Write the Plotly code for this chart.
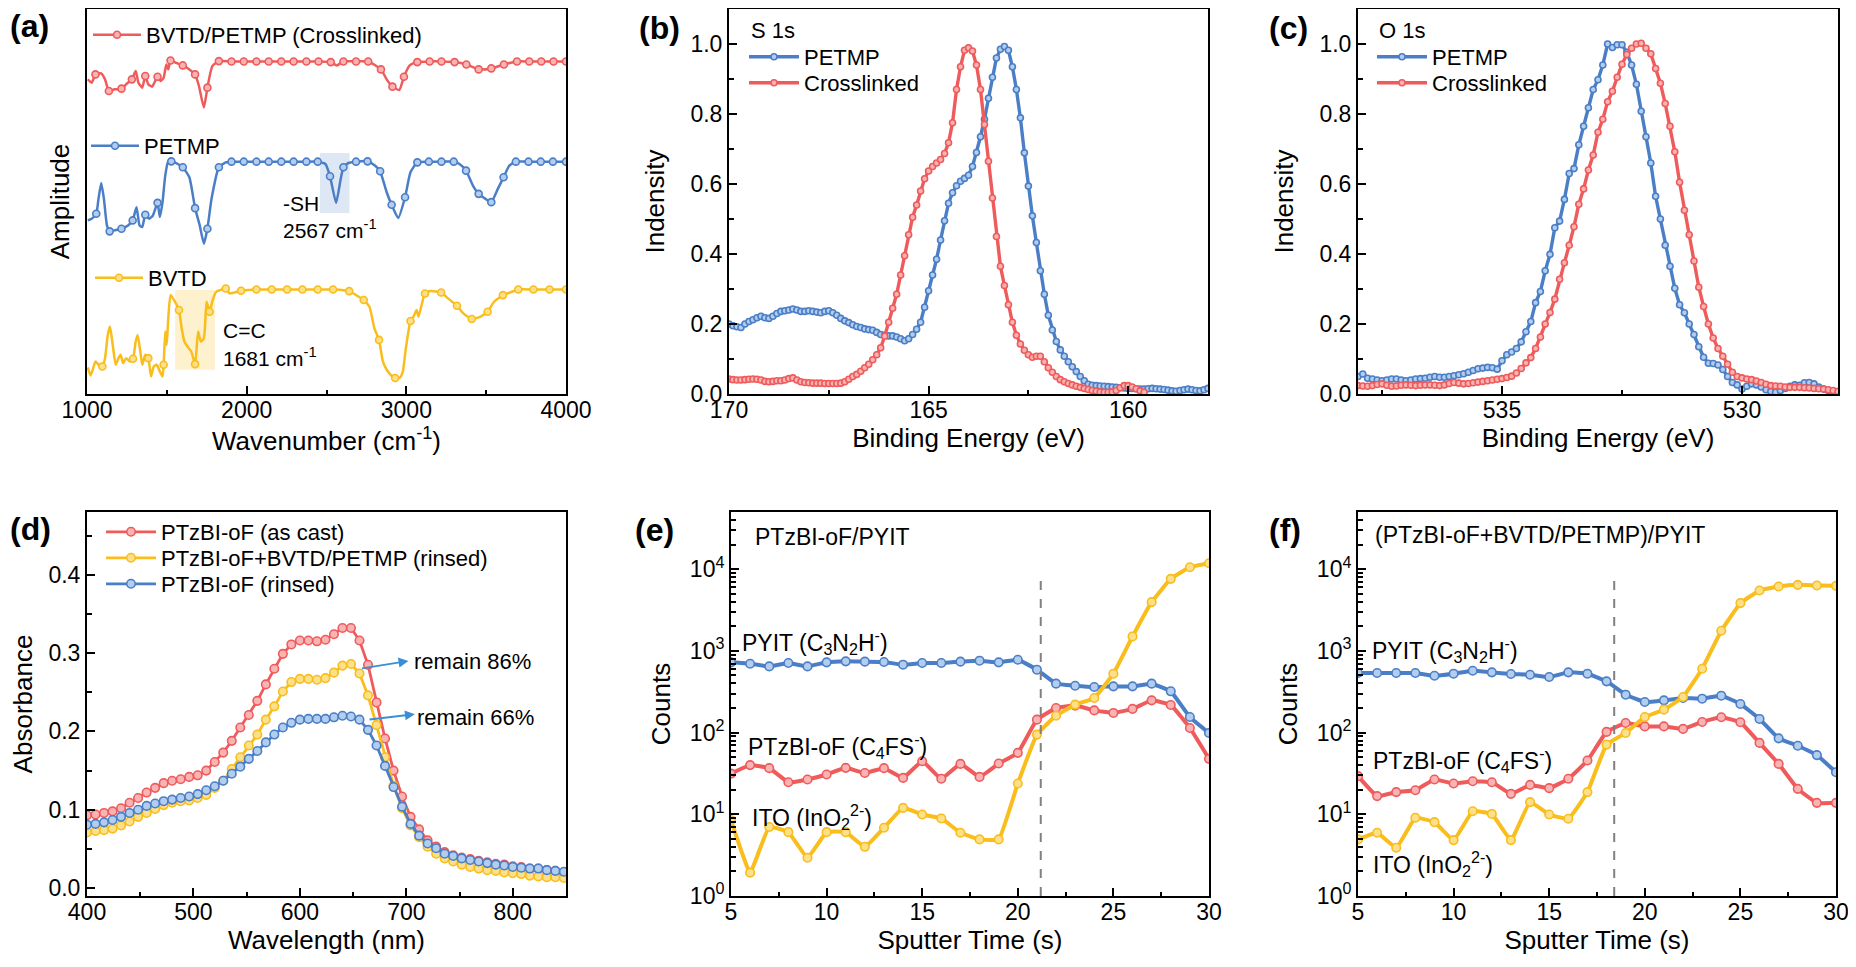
import numpy as np
import plotly.graph_objects as go

FONT = "Arial, Liberation Sans, Helvetica, sans-serif"
RED, RED_F = "#ef5b5b", "#f8b4b4"
BLUE, BLUE_F = "#4a7ec6", "#b3cdee"
YEL, YEL_F = "#f9bd1c", "#fde08a"
# the page body keeps its 8 px margin, so the figure is laid out in screen pixels minus that offset
OFF = 8
FW, FH = 1843, 967 - 2 * OFF

# ---------------- (a) FTIR, arbitrary amplitude units ----------------
xl_x = [1005, 1029, 1053, 1089, 1113, 1137, 1173, 1216, 1245, 1281, 1305, 1322, 1346, 1365, 1384, 1408,
        1442, 1461, 1480, 1497, 1509, 1523, 1557, 1600, 1641, 1677, 1701, 1732, 1754, 1785, 1826, 1905,
        1982, 2061, 2138, 2217, 2294, 2374, 2450, 2527, 2565, 2606, 2685, 2761, 2841, 2877, 2913, 2956,
        2985, 3021, 3069, 3146, 3220, 3302, 3376, 3453, 3532, 3611, 3693, 3770, 3845, 3922, 4000]
xl_y = [948, 938, 963, 966, 948, 913, 918, 920, 933, 948, 973, 938, 923, 958, 933, 926,
        956, 943, 953, 993, 978, 1005, 998, 990, 978, 963, 928, 863, 923, 988, 1003, 1002,
        1002, 1002, 1002, 1002, 1002, 1002, 1002, 1000, 990, 1002, 1002, 1002, 978, 948, 926, 916,
        956, 990, 1000, 1002, 1002, 1000, 993, 978, 981, 993, 1002, 1002, 1002, 1002, 1002]
xl_marks = [1053, 1137, 1216, 1281, 1365, 1442, 1523, 1600, 1677, 1754, 1826, 1905, 1982, 2061, 2138,
            2217, 2294, 2374, 2450, 2527, 2606, 2685, 2761, 2841, 2913, 2985, 3069, 3146, 3220, 3302,
            3376, 3453, 3532, 3611, 3693, 3770, 3845, 3922, 4000]

pet_x = [1005, 1029, 1058, 1072, 1089, 1106, 1125, 1142, 1173, 1216, 1257, 1286, 1310, 1329, 1346, 1365,
         1389, 1413, 1442, 1456, 1473, 1490, 1509, 1528, 1569, 1600, 1641, 1677, 1706, 1732, 1754, 1780,
         1826, 1869, 1905, 1982, 2061, 2138, 2217, 2294, 2374, 2445, 2493, 2522, 2560, 2589, 2606, 2637,
         2685, 2757, 2805, 2836, 2877, 2908, 2949, 2992, 3026, 3069, 3141, 3220, 3297, 3333, 3374, 3417,
         3453, 3496, 3532, 3573, 3609, 3645, 3686, 3765, 3842, 3918, 4000]
pet_y = [523, 528, 543, 588, 636, 588, 508, 490, 493, 498, 508, 523, 563, 508, 503, 540,
         528, 538, 576, 533, 578, 658, 701, 701, 693, 683, 653, 560, 508, 453, 498, 588,
         683, 698, 700, 700, 700, 700, 700, 700, 700, 700, 693, 656, 576, 648, 683, 696,
         700, 701, 688, 671, 608, 570, 530, 593, 668, 698, 700, 700, 700, 693, 673, 628,
         603, 588, 578, 618, 653, 688, 700, 700, 700, 700, 700]
pet_marks = [1058, 1142, 1216, 1286, 1365, 1442, 1528, 1600, 1677, 1754, 1826, 1905, 1982, 2061, 2138,
             2217, 2294, 2374, 2445, 2522, 2606, 2685, 2757, 2836, 2908, 2992, 3069, 3141, 3220, 3297,
             3374, 3453, 3532, 3609, 3686, 3765, 3842, 3918, 4000]

bv_x = [1005, 1022, 1036, 1053, 1072, 1096, 1113, 1130, 1144, 1161, 1180, 1197, 1211, 1226, 1245, 1269,
        1288, 1305, 1317, 1334, 1346, 1365, 1384, 1401, 1418, 1437, 1456, 1473, 1480, 1490, 1499, 1509,
        1523, 1545, 1576, 1593, 1610, 1629, 1653, 1677, 1696, 1713, 1732, 1749, 1768, 1787, 1809, 1833,
        1869, 1893, 1965, 2061, 2157, 2253, 2349, 2445, 2541, 2642, 2685, 2733, 2769, 2800, 2829, 2853,
        2877, 2901, 2930, 2961, 2978, 2997, 3026, 3045, 3064, 3076, 3093, 3117, 3153, 3218, 3261, 3317,
        3357, 3410, 3465, 3509, 3549, 3605, 3645, 3701, 3796, 3897, 4000]
bv_y = [80, 56, 73, 98, 88, 83, 108, 178, 203, 148, 88, 108, 118, 93, 108, 98,
        106, 158, 178, 128, 88, 118, 108, 53, 83, 88, 68, 53, 88, 188, 148, 228,
        298, 283, 253, 198, 158, 143, 128, 90, 188, 158, 168, 278, 248, 283, 308, 313,
        318, 303, 311, 315, 315, 315, 315, 315, 315, 310, 298, 283, 263, 198, 163, 98,
        73, 58, 48, 50, 68, 138, 220, 233, 253, 233, 263, 303, 310, 306, 288, 266,
        243, 226, 233, 248, 278, 298, 305, 315, 315, 315, 315]
bv_marks = [1096, 1288, 1384, 1480, 1576, 1677, 1768, 1869, 1965, 2061, 2157, 2253, 2349, 2445, 2541,
            2642, 2733, 2829, 2930, 3026, 3117, 3218, 3317, 3410, 3509, 3605, 3701, 3796, 3897, 4000]

sh_band = [2459, 2644, 545, 726]    # x0, x1, y0, y1
cc_band = [1552, 1802, 73, 313]

# ---------------- (b) S 1s, 0.1 eV steps from 170.0 ----------------
s1s_start, s1s_step = 170.0, 0.1
s1s_petmp = [0.200, 0.195, 0.192, 0.190, 0.200, 0.207, 0.212, 0.218, 0.222, 0.218,
             0.216, 0.222, 0.230, 0.236, 0.238, 0.240, 0.243, 0.240, 0.236, 0.236,
             0.238, 0.236, 0.234, 0.232, 0.236, 0.238, 0.232, 0.225, 0.216, 0.209,
             0.204, 0.198, 0.193, 0.190, 0.186, 0.184, 0.182, 0.176, 0.170, 0.168,
             0.166, 0.166, 0.163, 0.158, 0.152, 0.158, 0.170, 0.185, 0.205, 0.248,
             0.295, 0.340, 0.385, 0.440, 0.495, 0.545, 0.575, 0.595, 0.608, 0.616,
             0.625, 0.650, 0.690, 0.735, 0.785, 0.845, 0.905, 0.960, 0.985, 0.993,
             0.982, 0.935, 0.870, 0.789, 0.689, 0.594, 0.509, 0.433, 0.352, 0.285,
             0.225, 0.183, 0.150, 0.126, 0.108, 0.092, 0.078, 0.064, 0.050, 0.038,
             0.028, 0.025, 0.024, 0.023, 0.022, 0.021, 0.020, 0.019, 0.018, 0.017,
             0.016, 0.016, 0.015, 0.014, 0.014, 0.015, 0.016, 0.015, 0.014, 0.013,
             0.011, 0.009, 0.008, 0.010, 0.012, 0.014, 0.012, 0.010, 0.009, 0.012,
             0.016]
s1s_cross = [0.043, 0.041, 0.040, 0.040, 0.041, 0.042, 0.043, 0.042, 0.040, 0.036,
             0.035, 0.036, 0.038, 0.038, 0.040, 0.044, 0.046, 0.040, 0.035, 0.033,
             0.032, 0.031, 0.031, 0.031, 0.030, 0.030, 0.030, 0.030, 0.031, 0.035,
             0.042, 0.050, 0.056, 0.065, 0.075, 0.085, 0.098, 0.112, 0.132, 0.165,
             0.205, 0.245, 0.285, 0.340, 0.395, 0.455, 0.505, 0.540, 0.580, 0.615,
             0.637, 0.650, 0.660, 0.670, 0.687, 0.718, 0.775, 0.870, 0.935, 0.982,
             0.989, 0.980, 0.940, 0.870, 0.770, 0.665, 0.560, 0.450, 0.365, 0.310,
             0.255, 0.205, 0.168, 0.143, 0.125, 0.112, 0.105, 0.108, 0.108, 0.092,
             0.075, 0.062, 0.050, 0.041, 0.035, 0.030, 0.026, 0.022, 0.019, 0.016,
             0.013, 0.010, 0.008, 0.006, 0.005, 0.005, 0.006, 0.010, 0.018, 0.024,
             0.024, 0.020, 0.015, 0.009, 0.005]

# ---------------- (c) O 1s, 0.1 eV steps from 538.0 ----------------
o1s_start, o1s_step = 538.0, 0.1
o1s_petmp = [0.050, 0.057, 0.045, 0.043, 0.040, 0.038, 0.040, 0.043, 0.043, 0.040,
             0.038, 0.040, 0.043, 0.044, 0.045, 0.048, 0.050, 0.048, 0.048, 0.050,
             0.052, 0.055, 0.058, 0.062, 0.067, 0.072, 0.074, 0.076, 0.075, 0.071,
             0.095, 0.112, 0.120, 0.130, 0.149, 0.178, 0.207, 0.261, 0.293, 0.352,
             0.399, 0.475, 0.494, 0.556, 0.630, 0.644, 0.712, 0.765, 0.818, 0.870,
             0.898, 0.940, 1.000, 0.990, 0.998, 0.998, 0.976, 0.940, 0.885, 0.808,
             0.735, 0.660, 0.565, 0.500, 0.425, 0.365, 0.302, 0.255, 0.232, 0.200,
             0.170, 0.135, 0.105, 0.088, 0.087, 0.083, 0.070, 0.050, 0.033, 0.026,
             0.014, 0.022, 0.029, 0.026, 0.020, 0.012, 0.007, 0.005, 0.010, 0.016,
             0.022, 0.026, 0.025, 0.032, 0.033, 0.029, 0.020, 0.014, 0.010, 0.008,
             0.007]
o1s_cross = [0.024, 0.023, 0.022, 0.024, 0.027, 0.029, 0.025, 0.022, 0.023, 0.025,
             0.026, 0.025, 0.024, 0.025, 0.026, 0.026, 0.025, 0.024, 0.026, 0.030,
             0.033, 0.031, 0.029, 0.030, 0.032, 0.034, 0.036, 0.038, 0.040, 0.042,
             0.044, 0.047, 0.051, 0.060, 0.073, 0.089, 0.104, 0.130, 0.163, 0.200,
             0.233, 0.271, 0.328, 0.375, 0.425, 0.478, 0.542, 0.586, 0.640, 0.683,
             0.748, 0.785, 0.835, 0.865, 0.905, 0.942, 0.970, 0.988, 1.000, 1.002,
             0.988, 0.972, 0.930, 0.888, 0.830, 0.765, 0.692, 0.605, 0.525, 0.455,
             0.380, 0.305, 0.250, 0.200, 0.160, 0.130, 0.108, 0.085, 0.062, 0.050,
             0.046, 0.043, 0.041, 0.037, 0.033, 0.028, 0.024, 0.023, 0.022, 0.020,
             0.019, 0.019, 0.019, 0.018, 0.017, 0.016, 0.015, 0.014, 0.012, 0.010,
             0.007]

# ---------------- (d) UV-vis absorbance ----------------
wl = [400, 408, 416, 424, 432, 440, 448, 456, 464, 472, 480, 488, 496, 504, 512, 520, 528, 536, 544,
      552, 560, 568, 576, 584, 592, 600, 608, 616, 624, 632, 640, 648, 656, 664, 672, 680, 688, 696,
      704, 712, 720, 728, 736, 744, 752, 760, 768, 776, 784, 792, 800, 808, 816, 824, 832, 840, 848]
abs_cast = [0.093, 0.094, 0.096, 0.098, 0.102, 0.109, 0.115, 0.122, 0.128, 0.134,
            0.137, 0.139, 0.142, 0.144, 0.150, 0.161, 0.173, 0.188, 0.205, 0.221,
            0.239, 0.260, 0.280, 0.299, 0.311, 0.316, 0.316, 0.315, 0.317, 0.324,
            0.332, 0.332, 0.316, 0.285, 0.237, 0.191, 0.150, 0.117, 0.091, 0.075,
            0.061, 0.053, 0.046, 0.042, 0.039, 0.037, 0.035, 0.033, 0.031, 0.030,
            0.028, 0.027, 0.025, 0.025, 0.023, 0.022, 0.020]
abs_xl = [0.071, 0.073, 0.074, 0.076, 0.080, 0.085, 0.091, 0.096, 0.101, 0.106,
          0.109, 0.111, 0.112, 0.115, 0.119, 0.128, 0.137, 0.152, 0.167, 0.182,
          0.196, 0.215, 0.232, 0.251, 0.263, 0.267, 0.267, 0.266, 0.268, 0.275,
          0.284, 0.286, 0.274, 0.246, 0.208, 0.167, 0.131, 0.102, 0.080, 0.065,
          0.053, 0.044, 0.038, 0.034, 0.030, 0.027, 0.025, 0.023, 0.022, 0.020,
          0.019, 0.018, 0.016, 0.015, 0.014, 0.014, 0.013]
abs_rinsed = [0.081, 0.082, 0.084, 0.087, 0.091, 0.096, 0.100, 0.105, 0.108, 0.111,
              0.113, 0.115, 0.117, 0.120, 0.125, 0.130, 0.137, 0.146, 0.155, 0.165,
              0.175, 0.186, 0.196, 0.205, 0.211, 0.215, 0.216, 0.216, 0.216, 0.218,
              0.220, 0.219, 0.215, 0.202, 0.182, 0.156, 0.129, 0.104, 0.082, 0.067,
              0.057, 0.051, 0.044, 0.041, 0.038, 0.036, 0.034, 0.032, 0.030, 0.029,
              0.027, 0.026, 0.025, 0.025, 0.023, 0.022, 0.021]
# arrows: (tail x, tail y, head x, head y)
arrow86 = [657, 0.280, 702, 0.290]
arrow66 = [664, 0.215, 708, 0.222]

# ---------------- (e), (f) ToF-SIMS depth profiles ----------------
t = [5, 6, 7, 8, 9, 10, 11, 12, 13, 14, 15, 16, 17, 18, 19, 20, 21, 22, 23, 24, 25, 26, 27, 28, 29, 30]
e_pyit = [724, 697, 646, 710, 646, 724, 745, 738, 731, 678, 710, 710, 738, 759, 724, 780, 589, 397,
          375, 361, 368, 368, 397, 320, 155, 99]
e_ptz = [31.5, 40, 36.7, 24.7, 26.7, 30.7, 37, 32, 36.7, 27.9, 44.6, 27.2, 41.4, 28.7, 41.8, 56.5,
         144, 200, 214, 187, 174, 195, 248, 218, 114, 47.7]
e_ito = [8.5, 1.93, 7.0, 6.05, 2.94, 6.05, 6.05, 4.0, 6.84, 12.0, 9.95, 8.9, 5.94, 4.93, 4.93, 23.8,
         94.5, 161, 220, 265, 526, 1503, 3955, 7620, 10570, 11830]
f_pyit = [536, 536, 536, 536, 497, 526, 572, 546, 521, 511, 479, 546, 526, 424, 291, 237, 248, 265,
          260, 283, 224, 147, 85, 69, 53, 32.7]
f_ptz = [29.3, 16.7, 18.7, 19.7, 26.7, 23.8, 25.4, 24.7, 17.8, 22.9, 20.9, 27.2, 45.5, 102, 131, 119,
         119, 111, 135, 154, 134, 74.8, 41.4, 20.5, 13.8, 13.8]
f_ito = [4.93, 5.94, 3.9, 9.06, 8.02, 4.83, 10.9, 10.1, 4.83, 14.1, 9.95, 8.81, 18.7, 71.3, 99, 155,
         191, 273, 605, 1763, 3846, 5480, 6140, 6430, 6310, 6250]
e_interface = [21.2, 8800]
f_interface = [18.4, 7700]


def grid(start, step, n):
    return np.round(start - step * np.arange(n), 2)


def pick(xs, ys, marks):
    table = dict(zip(xs, ys))
    return marks, [table[m] for m in marks]


def mk(color, fill, size):
    return dict(size=size, color=fill, line=dict(color=color, width=1.6))


def sx(px):
    return (px - OFF) / FW


def sy(py):
    return 1 - (py - OFF) / FH


fig = go.Figure()

# panel (a)
for name, xs, ys, marks, col, fill, leg in [
        ("BVTD/PETMP (Crosslinked)", xl_x, xl_y, xl_marks, RED, RED_F, "legend"),
        ("PETMP", pet_x, pet_y, pet_marks, BLUE, BLUE_F, "legend2"),
        ("BVTD", bv_x, bv_y, bv_marks, YEL, YEL_F, "legend3")]:
    fig.add_trace(go.Scatter(x=xs, y=ys, mode="lines", line=dict(color=col, width=2.5, shape="spline", smoothing=0.5),
                             showlegend=False, xaxis="x", yaxis="y"))
    mx, my = pick(xs, ys, marks)
    fig.add_trace(go.Scatter(x=mx, y=my, mode="markers", marker=mk(col, fill, 7),
                             showlegend=False, xaxis="x", yaxis="y"))
    fig.add_trace(go.Scatter(x=[None], y=[None], mode="lines+markers", name=name, legend=leg,
                             line=dict(color=col, width=2.5), marker=mk(col, fill, 7),
                             xaxis="x", yaxis="y"))

# panel (b)
fig.add_trace(go.Scatter(x=grid(s1s_start, s1s_step, len(s1s_petmp)), y=s1s_petmp, name="PETMP",
                         mode="lines+markers", line=dict(color=BLUE, width=3.4), marker=mk(BLUE, BLUE_F, 6),
                         legend="legend4", xaxis="x2", yaxis="y2"))
fig.add_trace(go.Scatter(x=grid(s1s_start, s1s_step, len(s1s_cross)), y=s1s_cross, name="Crosslinked",
                         mode="lines+markers", line=dict(color=RED, width=3.4), marker=mk(RED, RED_F, 6),
                         legend="legend5", xaxis="x2", yaxis="y2"))
# panel (c)
fig.add_trace(go.Scatter(x=grid(o1s_start, o1s_step, len(o1s_petmp)), y=o1s_petmp, name="PETMP",
                         mode="lines+markers", line=dict(color=BLUE, width=3.4), marker=mk(BLUE, BLUE_F, 6),
                         legend="legend6", xaxis="x3", yaxis="y3"))
fig.add_trace(go.Scatter(x=grid(o1s_start, o1s_step, len(o1s_cross)), y=o1s_cross, name="Crosslinked",
                         mode="lines+markers", line=dict(color=RED, width=3.4), marker=mk(RED, RED_F, 6),
                         legend="legend7", xaxis="x3", yaxis="y3"))
# panel (d)
for name, ys, col, fill, leg in [("PTzBI-oF (as cast)", abs_cast, RED, RED_F, "legend8"),
                                 ("PTzBI-oF+BVTD/PETMP (rinsed)", abs_xl, YEL, YEL_F, "legend9"),
                                 ("PTzBI-oF (rinsed)", abs_rinsed, BLUE, BLUE_F, "legend10")]:
    fig.add_trace(go.Scatter(x=wl, y=ys, name=name, mode="lines+markers",
                             line=dict(color=col, width=2.8), marker=mk(col, fill, 8.5),
                             legend=leg, xaxis="x4", yaxis="y4"))
# panels (e), (f)
for ax, series in [("5", [e_pyit, e_ptz, e_ito]), ("6", [f_pyit, f_ptz, f_ito])]:
    for ys, col, fill in zip(series, [BLUE, RED, YEL], [BLUE_F, RED_F, YEL_F]):
        fig.add_trace(go.Scatter(x=t, y=ys, mode="lines+markers", showlegend=False,
                                 line=dict(color=col, width=4, shape="spline", smoothing=0.3),
                                 marker=mk(col, fill, 8.5), xaxis="x" + ax, yaxis="y" + ax))


def px_x(a, b):
    return [sx(a), sx(b)]


def px_y(top, bottom):
    return [sy(bottom), sy(top)]


def axis(**kw):
    d = dict(showline=True, linecolor="black", linewidth=2, mirror=True, ticks="inside",
             ticklen=8, tickwidth=1.8, tickcolor="black", showgrid=False, zeroline=False,
             automargin=False, tickfont=dict(size=23, color="black"))
    d.update(kw)
    return d


def xaxis(**kw):
    return axis(ticklabelstandoff=-6, **kw)


def minor(dt, t0=0):
    return dict(ticks="inside", ticklen=4.5, tickwidth=1.5, tickcolor="black", dtick=dt, tick0=t0)


def ttl(text, standoff=None):
    d = dict(text=text, font=dict(size=26, color="black"))
    if standoff is not None:
        d["standoff"] = standoff
    return d


row1 = px_y(9, 394)
row2 = px_y(512, 896)
log_vals = [1, 10, 100, 1000, 10000]
log_text = ["10<sup>%d</sup>" % i for i in range(5)]
log_minor = [m * v for v in [1, 10, 100, 1000, 10000] for m in range(2, 10)]
log_minor_style = dict(ticks="inside", ticklen=4.5, tickwidth=1.5, tickcolor="black", tickvals=log_minor)

fig.update_layout(
    width=FW, height=FH, margin=dict(l=0, r=0, t=0, b=0),
    paper_bgcolor="white", plot_bgcolor="white",
    font=dict(family=FONT, size=22, color="black"),
    xaxis=xaxis(domain=px_x(87, 566), anchor="y", range=[1000, 4000], tick0=1000, dtick=1000,
                minor=minor(500, 1000), title=ttl("Wavenumber (cm<sup>-1</sup>)", 3)),
    yaxis=axis(domain=row1, anchor="x", range=[0, 1160], showticklabels=False, ticks="",
               title=ttl("Amplitude", 8)),
    xaxis2=xaxis(domain=px_x(729, 1208), anchor="y2", range=[170, 158], tick0=160, dtick=5,
                 minor=minor(2.5, 160), title=ttl("Binding Energy (eV)", 3)),
    yaxis2=axis(domain=row1, anchor="x2", range=[0, 1.1], tick0=0, dtick=0.2, tickformat=".1f",
                minor=minor(0.1), title=ttl("Indensity", 18)),
    xaxis3=xaxis(domain=px_x(1358, 1838), anchor="y3", range=[538, 528], tick0=530, dtick=5,
                 minor=minor(2.5, 530), title=ttl("Binding Energy (eV)", 3)),
    yaxis3=axis(domain=row1, anchor="x3", range=[0, 1.1], tick0=0, dtick=0.2, tickformat=".1f",
                minor=minor(0.1), title=ttl("Indensity", 18)),
    xaxis4=xaxis(domain=px_x(87, 566), anchor="y4", range=[400, 850], tick0=400, dtick=100,
                 minor=minor(50, 400), title=ttl("Wavelength (nm)", 3)),
    yaxis4=axis(domain=row2, anchor="x4", range=[-0.01, 0.48], tick0=0, dtick=0.1, tickformat=".1f",
                minor=minor(0.05), title=ttl("Absorbance", 16)),
    xaxis5=xaxis(domain=px_x(731, 1209), anchor="y5", range=[5, 30], tick0=5, dtick=5,
                 minor=minor(2.5, 5), title=ttl("Sputter Time (s)", 3)),
    yaxis5=axis(domain=row2, anchor="x5", type="log", range=[0, 4.7], tickvals=log_vals, ticktext=log_text,
                minor=log_minor_style, title=ttl("Counts", 12)),
    xaxis6=xaxis(domain=px_x(1358, 1836), anchor="y6", range=[5, 30], tick0=5, dtick=5,
                 minor=minor(2.5, 5), title=ttl("Sputter Time (s)", 3)),
    yaxis6=axis(domain=row2, anchor="x6", type="log", range=[0, 4.7], tickvals=log_vals, ticktext=log_text,
                minor=log_minor_style, title=ttl("Counts", 12)),
)


def legend(x, ytop, width):
    return dict(x=sx(x), y=sy(ytop), xanchor="left", yanchor="top", bgcolor="rgba(0,0,0,0)",
                font=dict(size=22, color="black"), itemwidth=width, tracegroupgap=0)


fig.update_layout(
    legend=legend(88, 14, 48),
    legend2=legend(86, 125, 48),
    legend3=legend(90, 257, 48),
    legend4=legend(744, 36, 50),
    legend5=legend(744, 62, 50),
    legend6=legend(1372, 36, 50),
    legend7=legend(1372, 62, 50),
    legend8=legend(101, 511, 50),
    legend9=legend(101, 537, 50),
    legend10=legend(101, 563, 50),
)

shapes = [
    dict(type="rect", xref="x", yref="y", x0=sh_band[0], x1=sh_band[1], y0=sh_band[2], y1=sh_band[3],
         fillcolor="rgba(74,126,198,0.18)", line=dict(width=0), layer="below"),
    dict(type="rect", xref="x", yref="y", x0=cc_band[0], x1=cc_band[1], y0=cc_band[2], y1=cc_band[3],
         fillcolor="rgba(249,189,28,0.22)", line=dict(width=0), layer="below"),
    dict(type="line", xref="x5", yref="y5", x0=e_interface[0], x1=e_interface[0], y0=1,
         y1=e_interface[1], line=dict(color="#808080", width=2, dash="dash")),
    dict(type="line", xref="x6", yref="y6", x0=f_interface[0], x1=f_interface[0], y0=1,
         y1=f_interface[1], line=dict(color="#808080", width=2, dash="dash")),
]
fig.update_layout(shapes=shapes)

ann = []
for lab, x, y in [("(a)", 8, 26), ("(b)", 637, 28), ("(c)", 1267, 28),
                  ("(d)", 8, 529), ("(e)", 633, 530), ("(f)", 1267, 530)]:
    ann.append(dict(text="<b>%s</b>" % lab, x=sx(x), y=sy(y), xref="paper", yref="paper",
                    xanchor="left", yanchor="middle", showarrow=False, font=dict(size=32, color="black")))
for lab, x in [("S 1s", 749), ("O 1s", 1377)]:
    ann.append(dict(text=lab, x=sx(x), y=sy(31), xref="paper", yref="paper", xanchor="left",
                    yanchor="middle", showarrow=False, font=dict(size=22, color="black")))


def txt(text, x, y, xr, yr, size=21):
    return dict(text=text, x=x, y=y, xref=xr, yref=yr, xanchor="left", yanchor="middle",
                showarrow=False, font=dict(size=size, color="black"))


ann += [
    txt("-SH", 2217, 573, "x", "y"),
    txt("2567 cm<sup>-1</sup>", 2217, 498, "x", "y"),
    txt("C=C", 1840, 190, "x", "y"),
    txt("1681 cm<sup>-1</sup>", 1840, 110, "x", "y"),
    txt("remain 86%", 705, 0.289, "x4", "y4", 22),
    txt("remain 66%", 708, 0.218, "x4", "y4", 22),
    txt("PTzBI-oF/PYIT", 6.13, 4.39, "x5", "y5", 23),
    txt("PYIT (C<sub>3</sub>N<sub>2</sub>H<sup>-</sup>)", 5.49, 3.11, "x5", "y5", 23),
    txt("PTzBI-oF (C<sub>4</sub>FS<sup>-</sup>)", 5.77, 1.83, "x5", "y5", 23),
    txt("ITO (InO<sub>2</sub><sup>2-</sup>)", 5.98, 0.97, "x5", "y5", 23),
    txt("(PTzBI-oF+BVTD/PETMP)/PYIT", 5.78, 4.42, "x6", "y6", 23),
    txt("PYIT (C<sub>3</sub>N<sub>2</sub>H<sup>-</sup>)", 5.64, 3.01, "x6", "y6", 23),
    txt("PTzBI-oF (C<sub>4</sub>FS<sup>-</sup>)", 5.68, 1.67, "x6", "y6", 23),
    txt("ITO (InO<sub>2</sub><sup>2-</sup>)", 5.68, 0.39, "x6", "y6", 23),
]
for a in [arrow86, arrow66]:
    ann.append(dict(text="", x=a[2], y=a[3], ax=a[0], ay=a[1], xref="x4", yref="y4",
                    axref="x4", ayref="y4", showarrow=True, arrowhead=2, arrowsize=1.1,
                    arrowwidth=1.8, arrowcolor="#3b8ed6"))
fig.update_layout(annotations=ann)

fig.write_html("out.html")
